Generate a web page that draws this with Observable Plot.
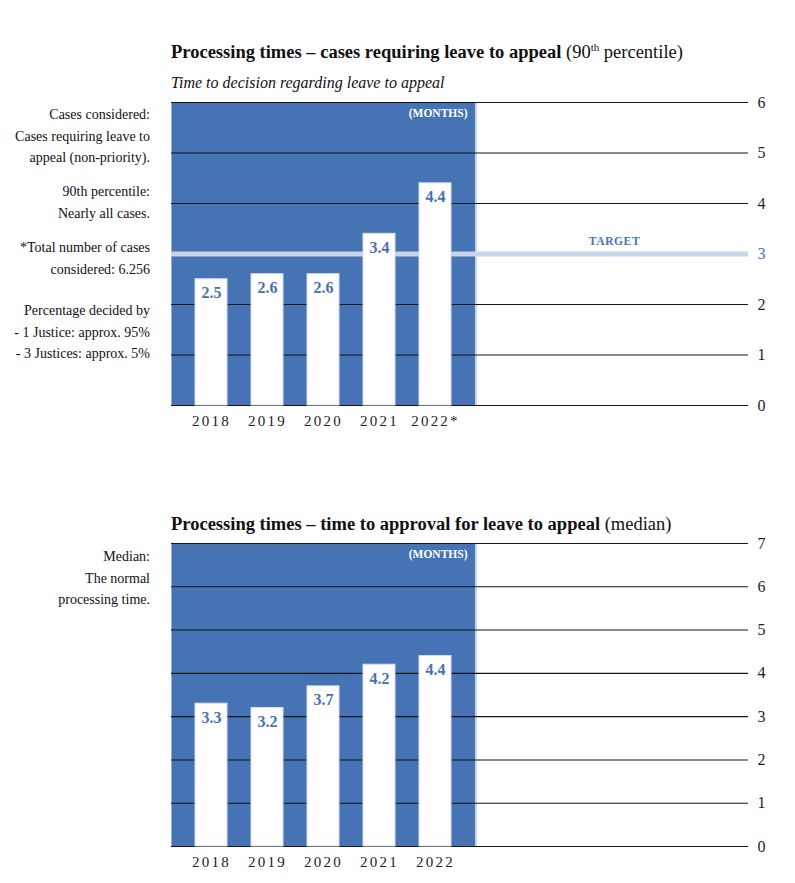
<!DOCTYPE html>
<html><head><meta charset="utf-8">
<script src="https://cdn.jsdelivr.net/npm/d3@7"></script>
<script src="https://cdn.jsdelivr.net/npm/@observablehq/plot@0.6"></script>
<style>
body{margin:0;background:#fff;font-family:"Liberation Serif",serif;color:#111;}
#page{position:relative;width:795px;height:883px;overflow:hidden;}
.abs{position:absolute;}
.title{left:171px;font-weight:bold;font-size:18.5px;line-height:20px;white-space:nowrap;}
.title .n{font-weight:normal;}
.title sup{font-size:11px;line-height:0;}
.sub{left:171px;font-style:italic;font-size:16px;line-height:18px;white-space:nowrap;}
.note{right:645px;text-align:right;font-size:14px;line-height:21.5px;white-space:nowrap;}
</style></head><body><div id="page">
<div class="abs title" style="top:42px">Processing times – cases requiring leave to appeal <span class="n">(90<sup>th</sup> percentile)</span></div>
<div class="abs sub" style="top:74px">Time to decision regarding leave to appeal</div>
<div class="abs note" style="top:104px">Cases considered:<br>Cases requiring leave to<br>appeal (non-priority).</div>
<div class="abs note" style="top:181px">90th percentile:<br>Nearly all cases.</div>
<div class="abs note" style="top:237px">*Total number of cases<br>considered: 6.256</div>
<div class="abs note" style="top:300px">Percentage decided by<br>- 1 Justice: approx. 95%<br>- 3 Justices: approx. 5%</div>
<div class="abs" id="c1" style="left:0;top:90px"></div>
<div class="abs title" style="top:514px">Processing times – time to approval for leave to appeal <span class="n">(median)</span></div>
<div class="abs note" style="top:546px">Median:<br>The normal<br>processing time.</div>
<div class="abs" id="c2" style="left:0;top:533px"></div>
</div>
<script>
const years = ["2018", "2019", "2020", "2021", "2022"];
const xLabels1 = ["2018", "2019", "2020", "2021", "2022*"];
const xLabels2 = ["2018", "2019", "2020", "2021", "2022"];
const values1 = [2.5, 2.6, 2.6, 3.4, 4.4];
const values2 = [3.3, 3.2, 3.7, 4.2, 4.4];
const yTicks1 = [0, 1, 2, 3, 4, 5, 6];
const yTicks2 = [0, 1, 2, 3, 4, 5, 6, 7];
const target1 = 3;

const BLUE = "#4673b4";
const LIGHT = "#c8d5ea";
const LABEL = "#4a70b4";
const FONT = "Liberation Serif, serif";

function chart({values, xLabels, yTicks, target, height, marginTop, marginBottom}) {
  const data = years.map((y, i) => ({year: y, value: values[i]}));
  const ymax = d3.max(yTicks);
  const marks = [
    Plot.rect([{a: years[0], b: years[years.length - 1]}], {x1: "a", x2: "b", y1: 0, y2: ymax, fill: LIGHT, insetLeft: -23.5, insetRight: -26}),
    Plot.rect([{a: years[0], b: years[years.length - 1]}], {x1: "a", x2: "b", y1: 0, y2: ymax, fill: BLUE, insetLeft: -23.5, insetRight: -24}),
    Plot.ruleY(yTicks.filter(t => t !== target), {stroke: "#151515", strokeWidth: 1.1})
  ];
  if (target != null) marks.push(Plot.ruleY([target], {stroke: LIGHT, strokeWidth: 5}));
  marks.push(
    Plot.barY(data, {x: "year", y: "value", fill: "white", stroke: "#d3ddef", strokeWidth: 1}),
    Plot.text(data, {x: "year", y: "value", text: d => d.value.toFixed(1), dy: 14, fill: LABEL, fontWeight: "bold", fontSize: 16, fontFamily: FONT}),
    Plot.text(["(MONTHS)"], {x: () => years[years.length - 1], y: () => ymax, text: d => d, dx: 32, dy: 11, textAnchor: "end", fill: "white", fontWeight: "bold", fontSize: 11.5, fontFamily: FONT}),
    Plot.text(yTicks, {y: d => d, text: d => String(d), frameAnchor: "right", dx: 9, textAnchor: "start", fill: d => d === target ? LABEL : "#222", fontSize: 16, fontFamily: FONT}),
    Plot.text(years, {x: d => d, text: (d, i) => xLabels[i], frameAnchor: "bottom", dy: 20, fill: "#222", fontSize: 15, fontFamily: FONT})
  );
  if (target != null) marks.push(Plot.text(["TARGET"], {y: () => target, text: d => d, dx: 154.5, dy: -13, fill: LABEL, fontWeight: "bold", fontSize: 11.5, fontFamily: FONT}));
  const svg = Plot.plot({
    width: 795, height, marginLeft: 171, marginRight: 47, marginTop, marginBottom,
    x: {type: "band", domain: years, range: [171, 474], paddingInner: 0.43, paddingOuter: 0.42, align: 0.5, axis: null},
    y: {domain: [0, ymax], axis: null},
    style: {background: "transparent", fontFamily: FONT, overflow: "visible"},
    marks
  });
  d3.select(svg).selectAll("text").filter(function() { return xLabels.includes(this.textContent); }).style("letter-spacing", "2.2px");
  d3.select(svg).selectAll("text").filter(function() { return this.textContent === "TARGET"; }).style("letter-spacing", "0.6px");
  return svg;
}

document.getElementById("c1").appendChild(chart({values: values1, xLabels: xLabels1, yTicks: yTicks1, target: target1, height: 345, marginTop: 12, marginBottom: 30}));
document.getElementById("c2").appendChild(chart({values: values2, xLabels: xLabels2, yTicks: yTicks2, target: null, height: 347, marginTop: 10, marginBottom: 34}));
</script>
</body></html>
